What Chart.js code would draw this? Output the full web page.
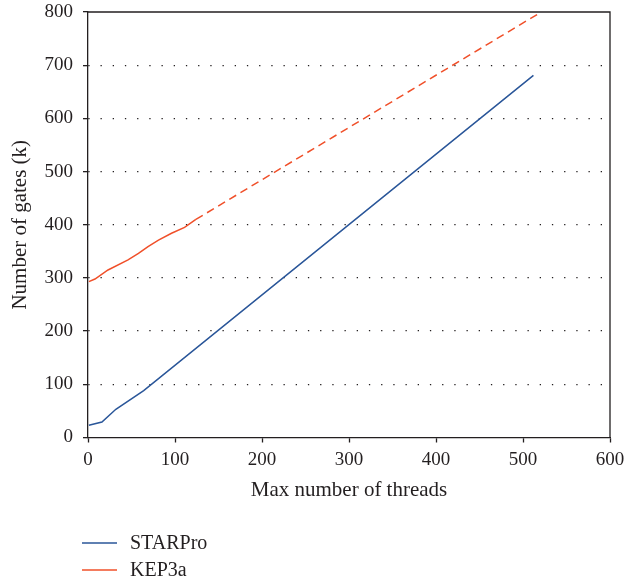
<!DOCTYPE html>
<html>
<head>
<meta charset="utf-8">
<script src="https://cdn.jsdelivr.net/npm/chart.js@4/dist/chart.umd.min.js"></script>
<style>
    body { margin: 0; background: #fff; }
    canvas { display: block; }
</style>
</head>
<body>
<canvas id="chart" width="626" height="581"></canvas>
<script>
// dados
const starproX = [1, 16, 32, 64, 512];
const starproY = [23, 29, 53, 88, 681];
const kepX = [1, 8, 23, 46, 58, 69, 81, 96, 111, 124, 521];
const kepY = [293, 298, 315, 334, 346, 359, 371, 384, 395, 410, 800];
const inicioTracejado = 124;
const yTicks = [0, 100, 200, 300, 400, 500, 600, 700, 800];
const xTicks = [0, 100, 200, 300, 400, 500, 600];

const corTexto = '#231f20';
const corAzul = '#2a5699';
const corLaranja = '#f0502a';
const fonte = 'Liberation Serif, Times New Roman, serif';

const pontos = (xs, ys) => xs.map((x, i) => ({ x: x, y: ys[i] }));

// moldura superior/direita
const moldura = {
    id: 'moldura',
    afterDatasetsDraw(chart) {
        const a = chart.chartArea;
        const ctx = chart.ctx;
        ctx.save();
        ctx.strokeStyle = corTexto;
        ctx.lineWidth = 1.3;
        ctx.beginPath();
        ctx.moveTo(a.left, a.top);
        ctx.lineTo(a.right, a.top);
        ctx.lineTo(a.right, a.bottom);
        ctx.stroke();
        ctx.restore();
    }
};

// legenda em coluna abaixo do grafico
const legenda = {
    id: 'legenda',
    afterDraw(chart) {
        const ctx = chart.ctx;
        ctx.save();
        ctx.font = '20px ' + fonte;
        ctx.textBaseline = 'middle';
        chart.data.datasets.forEach((d, i) => {
            let y = 543 + i * 27;
            ctx.strokeStyle = d.borderColor;
            ctx.lineWidth = 1.5;
            ctx.beginPath();
            ctx.moveTo(82, y);
            ctx.lineTo(117, y);
            ctx.stroke();
            ctx.fillStyle = corTexto;
            ctx.fillText(d.label, 130, y + 1);
        });
        ctx.restore();
    }
};

const semPadding = (s) => {
    s.paddingTop = 0;
    s.paddingBottom = 0;
    s.paddingLeft = 0;
    s.paddingRight = 0;
};

const ctx = document.getElementById('chart').getContext('2d');
const chart = new Chart(ctx, {
    type: 'line',
    data: {
        datasets: [{
            label: 'STARPro',
            data: pontos(starproX, starproY),
            borderColor: corAzul,
            borderWidth: 1.5,
            pointRadius: 0,
            tension: 0
        }, {
            label: 'KEP3a',
            data: pontos(kepX, kepY),
            borderColor: corLaranja,
            borderWidth: 1.5,
            pointRadius: 0,
            tension: 0,
            segment: {
                borderDash: c => c.p0.parsed.x >= inicioTracejado ? [8, 5] : undefined
            }
        }]
    },
    options: {
        responsive: false,
        animation: false,
        layout: {
            padding: { top: 12, right: 16, bottom: 73.5, left: 0 }
        },
        plugins: {
            legend: { display: false },
            tooltip: { enabled: false }
        },
        scales: {
            x: {
                type: 'linear',
                min: 0,
                max: 600,
                afterBuildTicks: s => { s.ticks = xTicks.map(v => ({ value: v })); },
                afterFit: s => { s.height = 70; semPadding(s); },
                grid: {
                    drawOnChartArea: false,
                    drawTicks: true,
                    tickLength: 5,
                    tickColor: corTexto,
                    tickWidth: 1.3
                },
                border: { color: corTexto, width: 1.3 },
                ticks: {
                    color: corTexto,
                    font: { family: fonte, size: 19 },
                    padding: 6,
                    maxRotation: 0
                },
                title: {
                    display: true,
                    text: 'Max number of threads',
                    color: corTexto,
                    font: { family: fonte, size: 21 },
                    padding: { top: 0, bottom: 4 }
                }
            },
            y: {
                min: 0,
                max: 800,
                afterBuildTicks: s => { s.ticks = yTicks.map(v => ({ value: v })); },
                afterFit: s => { s.width = 88; semPadding(s); },
                grid: {
                    color: c => (c.tick && (c.tick.value === 0 || c.tick.value === 800)) ? 'rgba(0,0,0,0)' : corTexto,
                    lineWidth: 1.3,
                    drawTicks: true,
                    tickLength: 5,
                    tickColor: corTexto,
                    tickWidth: 1.3,
                    tickBorderDash: []
                },
                border: { color: corTexto, width: 1.3, dash: [1.3, 10.9] },
                ticks: {
                    color: corTexto,
                    font: { family: fonte, size: 19 },
                    padding: 10
                },
                title: {
                    display: true,
                    text: 'Number of gates (k)',
                    color: corTexto,
                    font: { family: fonte, size: 21 },
                    padding: { top: 8, bottom: 0 }
                }
            }
        }
    },
    plugins: [moldura, legenda]
});
</script>
</body>
</html>
